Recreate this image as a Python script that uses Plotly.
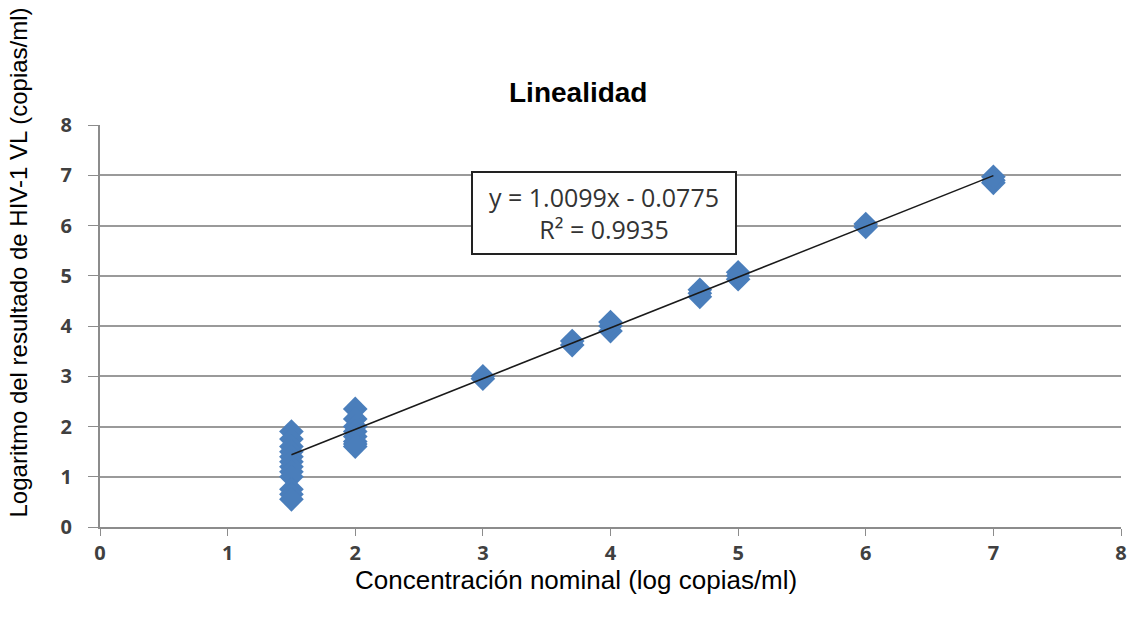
import plotly.graph_objects as go

# Data
x_nominal = [1.5]*12 + [2.0]*8 + [3.0]*2 + [3.7]*2 + [4.0]*3 + [4.7]*3 + [5.0]*3 + [6.0]*2 + [7.0]*3
y_result = [1.9, 1.75, 1.6, 1.5, 1.4, 1.3, 1.2, 1.1, 1.0, 0.75, 0.65, 0.55,
            2.35, 2.15, 2.0, 1.9, 1.8, 1.7, 1.65, 1.6,
            2.95, 3.0,
            3.62, 3.7,
            3.9, 4.0, 4.08,
            4.58, 4.65, 4.72,
            4.93, 5.0, 5.07,
            5.97, 6.03,
            6.85, 6.9, 6.97]
slope = 1.0099
intercept = -0.0775
r2 = 0.9935
trend_x = [1.5, 7.0]
trend_y = [slope*v + intercept for v in trend_x]
ticks = [0, 1, 2, 3, 4, 5, 6, 7, 8]

fig = go.Figure()
fig.add_trace(go.Scatter(x=x_nominal, y=y_result, mode="markers",
                         marker=dict(symbol="diamond", size=19, color="#4A7EBB",
                                     line=dict(width=0)),
                         showlegend=False))
fig.add_trace(go.Scatter(x=trend_x, y=trend_y, mode="lines",
                         line=dict(color="#1a1a1a", width=1.5), showlegend=False))

tickfont = dict(family="Open Sans", size=20, color="#404040", weight=700)
fig.update_layout(
    width=1135, height=622,
    margin=dict(l=100, r=8, t=125, b=95),
    paper_bgcolor="white", plot_bgcolor="white",
    xaxis=dict(range=[0, 8], tickvals=ticks, showgrid=False, zeroline=False,
               showline=True, linecolor="#8c8c8c", linewidth=2,
               ticks="outside", ticklen=7, tickcolor="#8c8c8c", tickwidth=1,
               tickfont=tickfont, ticklabelstandoff=0),
    yaxis=dict(range=[0, 8], tickvals=ticks, showgrid=True, gridcolor="#9a9a9a",
               gridwidth=2, zeroline=False, showline=True, linecolor="#8c8c8c",
               linewidth=2, ticks="outside", ticklen=10, tickcolor="#8c8c8c",
               tickwidth=1, tickfont=tickfont, ticklabelstandoff=12),
    annotations=[
        dict(text="<b>Linealidad</b>", x=581, y=93, xref="paper", yref="paper",
             showarrow=False, font=dict(family="Liberation Sans", size=28, color="black")),
        dict(text="Concentración nominal (log copias/ml)", x=579, y=580,
             showarrow=False, font=dict(family="Liberation Sans", size=26, color="black")),
        dict(text="Logaritmo del resultado de HIV-1 VL (copias/ml)", x=18, y=262,
             textangle=-90, showarrow=False,
             font=dict(family="Liberation Sans", size=24, color="black")),
        dict(text=f"y = {slope}x - {abs(intercept)}<br>R² = {r2}", x=607, y=213,
             showarrow=False, align="center", bordercolor="#222", borderwidth=2,
             borderpad=2, bgcolor="white",
             font=dict(family="Open Sans", size=25, color="#333"), width=258, height=76),
    ],
)
# convert pixel-based annotation positions to paper coords
W, H = 1135, 622
L, R, T, B = 100, 8, 125, 95
pw, ph = W - L - R, H - T - B
new = []
for a in fig.layout.annotations:
    a = a.to_plotly_json()
    a["xref"] = "paper"; a["yref"] = "paper"
    a["x"] = (a["x"] - L) / pw
    a["y"] = (H - B - a["y"]) / ph
    a["xanchor"] = "center"; a["yanchor"] = "middle"
    new.append(a)
fig.layout.annotations = new
fig.write_html("out.html")
